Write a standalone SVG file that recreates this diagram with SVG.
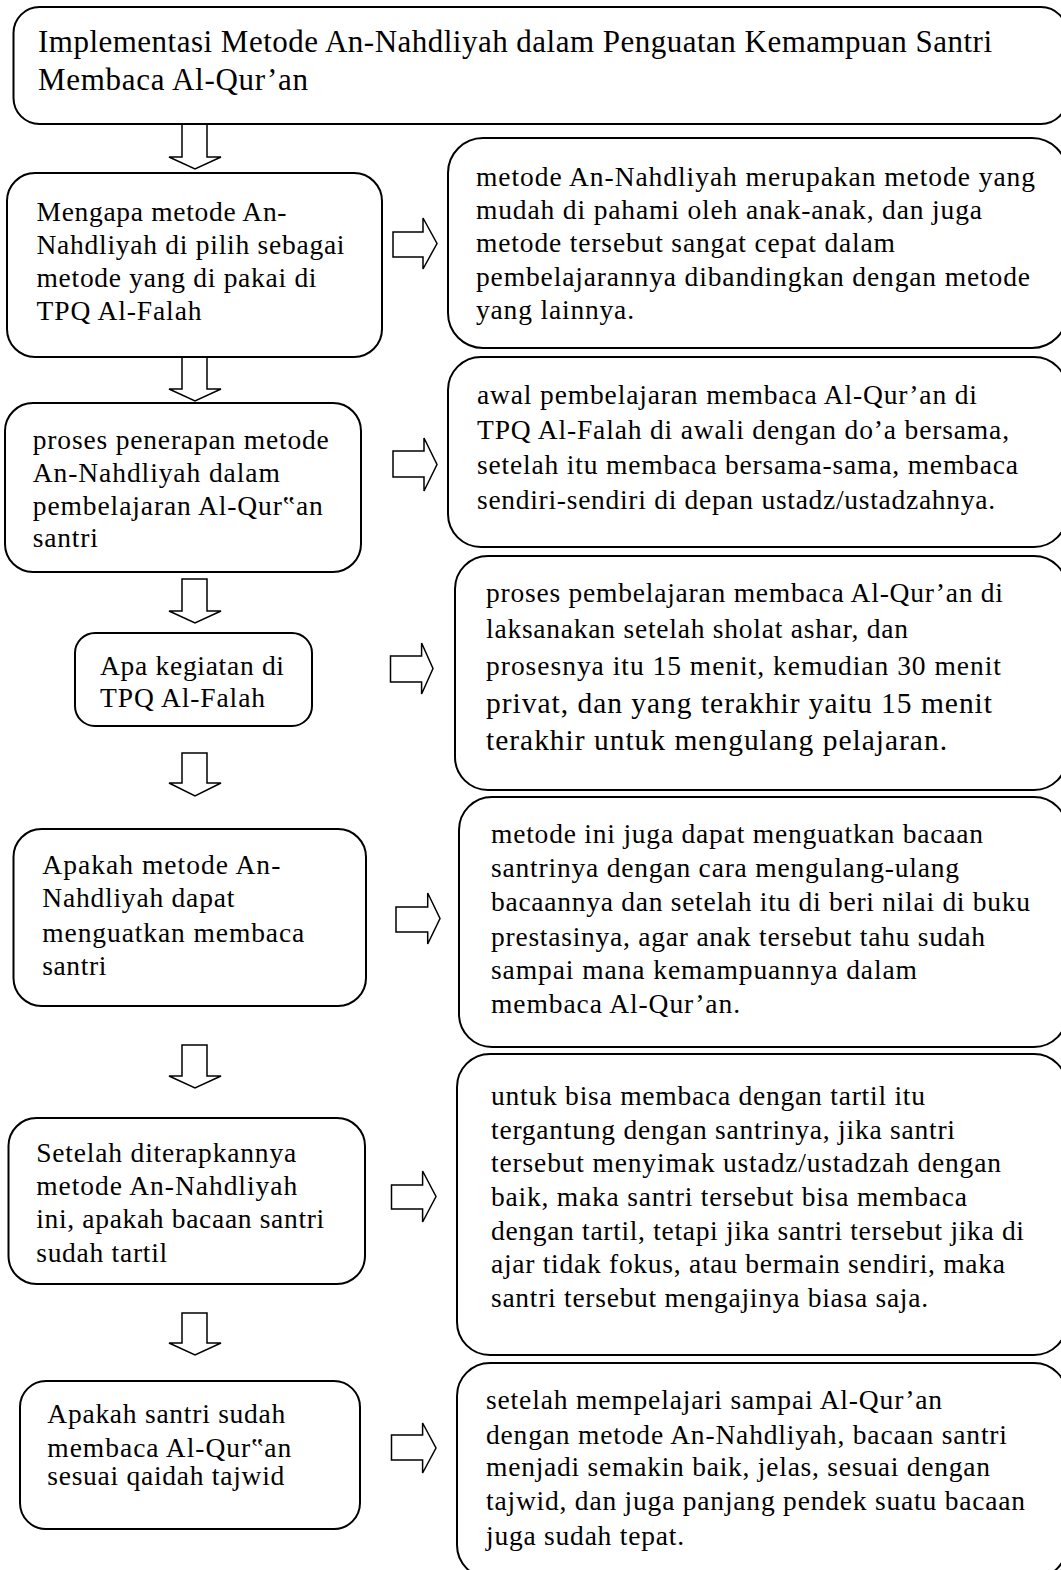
<svg xmlns="http://www.w3.org/2000/svg" width="1061" height="1570" viewBox="0 0 1061 1570">
<style>
.box{fill:#fff;stroke:#000;stroke-width:2}
.arr{fill:#fff;stroke:#000;stroke-width:1.5;stroke-linejoin:miter}
text{font-family:'Liberation Serif','Times New Roman',serif;font-size:27.5px;fill:#000}
.h{font-size:31px}
.b{font-size:29.5px}
</style>
<rect x="0" y="0" width="1061" height="1570" fill="#fff"/>
<g id="connectors">
<polygon class="arr" points="182,124 207,124 207,157 221,157 195,169 169,157 182,157"/>
<polygon class="arr" points="182,357 207,357 207,389 221,389 195,401 169,389 182,389"/>
<polygon class="arr" points="182,579 207,579 207,611 221,611 195,623 169,611 182,611"/>
<polygon class="arr" points="182,753 207,753 207,783 221,783 195,796 169,783 182,783"/>
<polygon class="arr" points="182,1045 207,1045 207,1076 221,1076 195,1088 169,1076 182,1076"/>
<polygon class="arr" points="182,1313 207,1313 207,1343 221,1343 195,1355 169,1343 182,1343"/>
<polygon class="arr" points="393,232 423,232 423,218 437,243.5 423,269 423,257 393,257"/>
<polygon class="arr" points="393,451 424,451 424,438 437,464.5 424,491 424,477 393,477"/>
<polygon class="arr" points="390.5,656 421.6,656 421.6,643 433,668.5 421.6,694 421.6,682 390.5,682"/>
<polygon class="arr" points="396,907 427.7,907 427.7,893 440,918.5 427.7,944 427.7,932 396,932"/>
<polygon class="arr" points="391.5,1185 422.6,1185 422.6,1171 436,1196.5 422.6,1222 422.6,1209 391.5,1209"/>
<polygon class="arr" points="391.5,1435 422.6,1435 422.6,1423 436,1448 422.6,1473 422.6,1460 391.5,1460"/>
</g>
<g id="title">
<rect class="box" x="13.5" y="7" width="1053.5" height="117" rx="26"/>
<text class="h" x="38" y="52" textLength="954" lengthAdjust="spacing">Implementasi Metode An-Nahdliyah dalam Penguatan Kemampuan Santri</text>
<text class="h" x="38" y="90" textLength="270" lengthAdjust="spacing">Membaca Al-Qur’an</text>
</g>
<g id="q1">
<rect class="box" x="7" y="173" width="375" height="184" rx="28"/>
<text x="36.5" y="221" textLength="250" lengthAdjust="spacing">Mengapa metode An-</text>
<text x="36.5" y="254" textLength="308" lengthAdjust="spacing">Nahdliyah di pilih sebagai</text>
<text x="36.5" y="287" textLength="280" lengthAdjust="spacing">metode yang di pakai di</text>
<text x="36.5" y="320" textLength="165" lengthAdjust="spacing">TPQ Al-Falah</text>
</g>
<g id="a1">
<rect class="box" x="448" y="138" width="619" height="210" rx="35"/>
<text x="476" y="186" textLength="559" lengthAdjust="spacing">metode An-Nahdliyah merupakan metode yang</text>
<text x="476" y="219" textLength="506" lengthAdjust="spacing">mudah di pahami oleh anak-anak, dan juga</text>
<text x="476" y="252" textLength="419" lengthAdjust="spacing">metode tersebut sangat cepat dalam</text>
<text x="476" y="286" textLength="554" lengthAdjust="spacing">pembelajarannya dibandingkan dengan metode</text>
<text x="476" y="319" textLength="158" lengthAdjust="spacing">yang lainnya.</text>
</g>
<g id="q2">
<rect class="box" x="5" y="403" width="356" height="169" rx="28"/>
<text x="32.8" y="449" textLength="296" lengthAdjust="spacing">proses penerapan metode</text>
<text x="32.8" y="482" textLength="247" lengthAdjust="spacing">An-Nahdliyah dalam</text>
<text x="32.8" y="515" textLength="290" lengthAdjust="spacing">pembelajaran Al-Qur‟an</text>
<text x="32.8" y="547" textLength="65" lengthAdjust="spacing">santri</text>
</g>
<g id="a2">
<rect class="box" x="448" y="357" width="619" height="190" rx="33"/>
<text x="477" y="404" textLength="500" lengthAdjust="spacing">awal pembelajaran membaca Al-Qur’an di</text>
<text x="477" y="439" textLength="532" lengthAdjust="spacing">TPQ Al-Falah di awali dengan do’a bersama,</text>
<text x="477" y="474" textLength="541" lengthAdjust="spacing">setelah itu membaca bersama-sama, membaca</text>
<text x="477" y="509" textLength="518" lengthAdjust="spacing">sendiri-sendiri di depan ustadz/ustadzahnya.</text>
</g>
<g id="q3">
<rect class="box" x="75" y="633" width="237" height="93" rx="20"/>
<text x="100" y="675" textLength="184" lengthAdjust="spacing">Apa kegiatan di</text>
<text x="100" y="707" textLength="165" lengthAdjust="spacing">TPQ Al-Falah</text>
</g>
<g id="a3">
<rect class="box" x="455" y="556" width="612" height="234" rx="33"/>
<text x="486" y="602" textLength="517" lengthAdjust="spacing">proses pembelajaran membaca Al-Qur’an di</text>
<text x="486" y="638" textLength="422" lengthAdjust="spacing">laksanakan setelah sholat ashar, dan</text>
<text x="486" y="675" textLength="515" lengthAdjust="spacing">prosesnya itu 15 menit, kemudian 30 menit</text>
<text class="b" x="486" y="713" textLength="506" lengthAdjust="spacing">privat, dan yang terakhir yaitu 15 menit</text>
<text class="b" x="486" y="750" textLength="461" lengthAdjust="spacing">terakhir untuk mengulang pelajaran.</text>
</g>
<g id="q4">
<rect class="box" x="13.5" y="829" width="352.5" height="177" rx="28"/>
<text x="42.3" y="874" textLength="238" lengthAdjust="spacing">Apakah metode An-</text>
<text x="42.3" y="907" textLength="192" lengthAdjust="spacing">Nahdliyah dapat</text>
<text x="42.3" y="942" textLength="262" lengthAdjust="spacing">menguatkan membaca</text>
<text x="42.3" y="975" textLength="64" lengthAdjust="spacing">santri</text>
</g>
<g id="a4">
<rect class="box" x="459" y="797" width="608" height="250" rx="33"/>
<text x="491" y="843" textLength="492" lengthAdjust="spacing">metode ini juga dapat menguatkan bacaan</text>
<text x="491" y="877" textLength="468" lengthAdjust="spacing">santrinya dengan cara mengulang-ulang</text>
<text x="491" y="911" textLength="539" lengthAdjust="spacing">bacaannya dan setelah itu di beri nilai di buku</text>
<text x="491" y="946" textLength="494" lengthAdjust="spacing">prestasinya, agar anak tersebut tahu sudah</text>
<text x="491" y="979" textLength="426" lengthAdjust="spacing">sampai mana kemampuannya dalam</text>
<text x="491" y="1013" textLength="249" lengthAdjust="spacing">membaca Al-Qur’an.</text>
</g>
<g id="q5">
<rect class="box" x="8.5" y="1118" width="356.5" height="166" rx="28"/>
<text x="36.2" y="1162" textLength="260" lengthAdjust="spacing">Setelah diterapkannya</text>
<text x="36.2" y="1195" textLength="261" lengthAdjust="spacing">metode An-Nahdliyah</text>
<text x="36.2" y="1228" textLength="288" lengthAdjust="spacing">ini, apakah bacaan santri</text>
<text x="36.2" y="1262" textLength="131" lengthAdjust="spacing">sudah tartil</text>
</g>
<g id="a5">
<rect class="box" x="457" y="1054" width="610" height="301" rx="33"/>
<text x="491" y="1105" textLength="434" lengthAdjust="spacing">untuk bisa membaca dengan tartil itu</text>
<text x="491" y="1139" textLength="464" lengthAdjust="spacing">tergantung dengan santrinya, jika santri</text>
<text x="491" y="1172" textLength="510" lengthAdjust="spacing">tersebut menyimak ustadz/ustadzah dengan</text>
<text x="491" y="1206" textLength="476" lengthAdjust="spacing">baik, maka santri tersebut bisa membaca</text>
<text x="491" y="1240" textLength="533" lengthAdjust="spacing">dengan tartil, tetapi jika santri tersebut jika di</text>
<text x="491" y="1273" textLength="514" lengthAdjust="spacing">ajar tidak fokus, atau bermain sendiri, maka</text>
<text x="491" y="1307" textLength="437" lengthAdjust="spacing">santri tersebut mengajinya biasa saja.</text>
</g>
<g id="q6">
<rect class="box" x="20" y="1381" width="340" height="148" rx="26"/>
<text x="47.3" y="1423" textLength="238" lengthAdjust="spacing">Apakah santri sudah</text>
<text x="47.3" y="1457" textLength="244" lengthAdjust="spacing">membaca Al-Qur‟an</text>
<text x="47.3" y="1485" textLength="237" lengthAdjust="spacing">sesuai qaidah tajwid</text>
</g>
<g id="a6">
<rect class="box" x="457" y="1363" width="610" height="215" rx="33"/>
<text x="486" y="1409" textLength="456" lengthAdjust="spacing">setelah mempelajari sampai Al-Qur’an</text>
<text x="486" y="1444" textLength="521" lengthAdjust="spacing">dengan metode An-Nahdliyah, bacaan santri</text>
<text x="486" y="1476" textLength="504" lengthAdjust="spacing">menjadi semakin baik, jelas, sesuai dengan</text>
<text x="486" y="1510" textLength="539" lengthAdjust="spacing">tajwid, dan juga panjang pendek suatu bacaan</text>
<text x="486" y="1545" textLength="198" lengthAdjust="spacing">juga sudah tepat.</text>
</g>
</svg>
